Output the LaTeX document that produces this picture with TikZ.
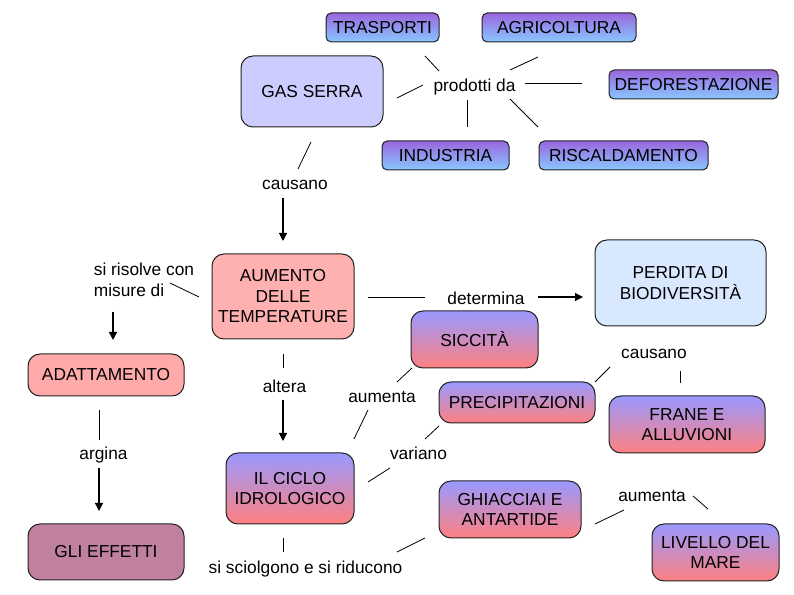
\documentclass[tikz,border=0pt]{standalone}
\usepackage{fontspec}
\setmainfont{Liberation Sans}
\usetikzlibrary{arrows.meta}
\definecolor{gtop}{HTML}{9999FF}
\definecolor{gbot}{HTML}{FF8080}
\definecolor{ttop}{HTML}{9966DD}
\definecolor{tbot}{HTML}{88C8FF}
\definecolor{lavbox}{HTML}{CCCCFF}
\definecolor{pinkbox}{HTML}{FFB0B0}
\definecolor{adabox}{HTML}{FFAAAA}
\definecolor{skybox}{HTML}{D8E8FF}
\definecolor{mauvebox}{HTML}{C080A0}
\definecolor{edgecol}{HTML}{222222}
\begin{document}
\begin{tikzpicture}[x=0.75pt,y=-0.75pt,
  every node/.style={font=\fontsize{13}{15.4}\selectfont},
  box/.style={draw=edgecol, line width=0.75pt, rounded corners=9pt, align=center, inner sep=0pt},
  sbox/.style={box, rounded corners=4pt, top color=ttop, bottom color=tbot},
  gbox/.style={box, top color=gtop, bottom color=gbot},
  lbl/.style={inner sep=1pt, align=left},
  seg/.style={line width=0.6pt},
  arr/.style={line width=0.85pt, -{Triangle[length=6pt,width=6pt]}}]
\useasboundingbox[fill=white] (0,0) rectangle (794,595);

% boxes
\node[sbox, minimum width=84.75pt, minimum height=21.75pt] (trasp) at (382.5,27.5) {TRASPORTI};
\node[sbox, minimum width=115.5pt, minimum height=21.75pt] (agri) at (559,27.5) {AGRICOLTURA};
\node[box, fill=lavbox, minimum width=106.5pt, minimum height=53.25pt] (gas) at (312,91.5) {GAS SERRA};
\node[sbox, minimum width=126.75pt, minimum height=21.75pt] (defor) at (693.5,84.5) {DEFORESTAZIONE};
\node[sbox, minimum width=95.25pt, minimum height=21.75pt] (indus) at (445.5,155.5) {INDUSTRIA};
\node[sbox, minimum width=126.75pt, minimum height=21.75pt] (risc) at (623.5,155.5) {RISCALDAMENTO};
\node[box, fill=pinkbox, minimum width=106.5pt, minimum height=63.75pt] (aum) at (283,296.5) {AUMENTO\\DELLE\\TEMPERATURE};
\node[box, fill=skybox, minimum width=128.25pt, minimum height=64.5pt] (perd) at (680.5,283) {PERDITA DI\\BIODIVERSIT\`A};
\node[gbox, minimum width=95.25pt, minimum height=42.75pt] (sicc) at (474.5,339.5) {SICCIT\`A};
\node[box, fill=adabox, minimum width=117pt, minimum height=31.5pt] (adatt) at (106,375) {ADATTAMENTO};
\node[gbox, minimum width=117pt, minimum height=30.75pt] (precip) at (517,402.5) {PRECIPITAZIONI};
\node[gbox, minimum width=117pt, minimum height=42.75pt] (frane) at (687,424.5) {FRANE E\\ALLUVIONI};
\node[gbox, minimum width=96pt, minimum height=53.25pt] (ciclo) at (290,488.5) {IL CICLO\\IDROLOGICO};
\node[gbox, minimum width=106.5pt, minimum height=42.75pt] (ghiacc) at (510,509.5) {GHIACCIAI E\\ANTARTIDE};
\node[box, fill=mauvebox, minimum width=117pt, minimum height=42pt] (eff) at (106,552) {GLI EFFETTI};
\node[gbox, minimum width=95.25pt, minimum height=42.75pt] (liv) at (715.5,552.5) {LIVELLO DEL\\MARE};

% labels
\node[lbl] (prod) at (474.5,87) {prodotti da};
\node[lbl] (caus1) at (295,185) {causano};
\node[lbl] (sris) at (144,280) {si risolve con\\misure di};
\node[lbl] (det) at (486,298) {determina};
\node[lbl] (caus2) at (654,354) {causano};
\node[lbl] (alt) at (284.5,386) {altera};
\node[lbl] (aumta1) at (382,397) {aumenta};
\node[lbl] (arg) at (103.5,455) {argina};
\node[lbl] (var) at (418.5,453) {variano};
\node[lbl] (aumta2) at (652,496) {aumenta};
\node[lbl] (sisc) at (305.5,569) {si sciolgono e si riducono};

% connectors
\draw[seg] ([shift={(-35.5,-16)}]prod.center) -- ([shift={(42.5,28.5)}]trasp.center);
\draw[seg] ([shift={(35.5,-17)}]prod.center) -- ([shift={(-21,29.5)}]agri.center);
\draw[seg] ([shift={(-51.5,-2)}]prod.center) -- ([shift={(85,6.5)}]gas.center);
\draw[seg] ([shift={(50.5,-4)}]prod.center) -- ([shift={(-111.5,-1.5)}]defor.center);
\draw[seg] ([shift={(-7.5,13)}]prod.center) -- ([shift={(21.5,-28.5)}]indus.center);
\draw[seg] ([shift={(35.5,12)}]prod.center) -- ([shift={(-85.5,-28.5)}]risc.center);
\draw[seg] ([shift={(3,-16)}]caus1.center) -- ([shift={(-1,50.5)}]gas.center);
\draw[arr] ([shift={(-12,13)}]caus1.center) -- ([shift={(0,-55.5)}]aum.center);
\draw[seg] ([shift={(26,3)}]sris.center) -- ([shift={(-84,0.5)}]aum.center);
\draw[arr] ([shift={(-31,32)}]sris.center) -- ([shift={(7,-35)}]adatt.center);
\draw[seg] ([shift={(85,0.5)}]aum.center) -- ([shift={(-61,-1)}]det.center);
\draw[arr] ([shift={(52,-1)}]det.center) -- ([shift={(-97.5,14)}]perd.center);
\draw[seg] ([shift={(0,57.5)}]aum.center) -- ([shift={(-1.5,-18)}]alt.center);
\draw[arr] ([shift={(-1.5,14)}]alt.center) -- ([shift={(-7,-47.5)}]ciclo.center);
\draw[seg] ([shift={(-7,35)}]adatt.center) -- ([shift={(-4.5,-15)}]arg.center);
\draw[arr] ([shift={(-4.5,13)}]arg.center) -- ([shift={(-7,-41)}]eff.center);
\draw[seg] ([shift={(15,-15)}]aumta1.center) -- ([shift={(-62.5,28.5)}]sicc.center);
\draw[seg] ([shift={(-14,13)}]aumta1.center) -- ([shift={(64,-49.5)}]ciclo.center);
\draw[seg] ([shift={(6.5,-14)}]var.center) -- ([shift={(-78,23.5)}]precip.center);
\draw[seg] ([shift={(78,-6.5)}]ciclo.center) -- ([shift={(-28.5,15)}]var.center);
\draw[seg] ([shift={(-7,49.5)}]ciclo.center) -- ([shift={(-22.5,-17)}]sisc.center);
\draw[seg] ([shift={(91.5,-17)}]sisc.center) -- ([shift={(-85,28.5)}]ghiacc.center);
\draw[seg] ([shift={(85,14.5)}]ghiacc.center) -- ([shift={(-28,14)}]aumta2.center);
\draw[seg] ([shift={(41,0)}]aumta2.center) -- ([shift={(-7.5,-43.5)}]liv.center);
\draw[seg] ([shift={(78,-20.5)}]precip.center) -- ([shift={(-44,13)}]caus2.center);
\draw[seg] ([shift={(26,17)}]caus2.center) -- ([shift={(-7,-41.5)}]frane.center);
\end{tikzpicture}
\end{document}
